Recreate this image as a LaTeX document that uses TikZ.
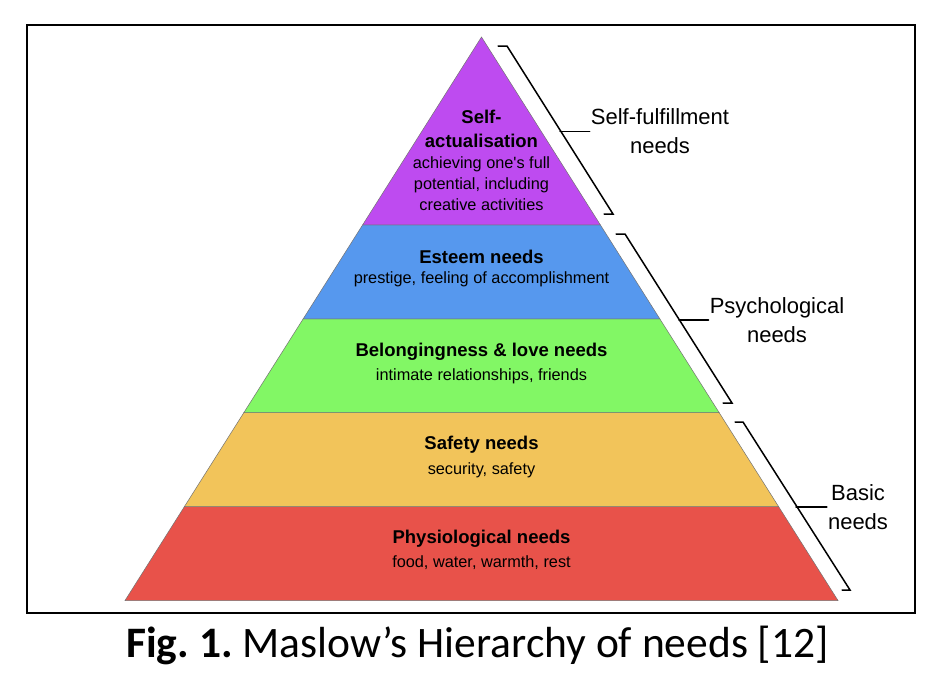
\documentclass[tikz,border=0pt]{standalone}
\usepackage{fontspec}
\setmainfont{Liberation Sans}
\newfontfamily\capfont{Carlito}
\usetikzlibrary{calc}
\frenchspacing

\definecolor{selfcol}{RGB}{190,75,240}
\definecolor{esteemcol}{RGB}{86,152,238}
\definecolor{lovecol}{RGB}{130,247,101}
\definecolor{safetycol}{RGB}{242,196,90}
\definecolor{physcol}{RGB}{232,82,74}

\begin{document}
\begin{tikzpicture}[x=1pt,y=-1pt,
  layer/.style={draw=black!55,line width=0.5pt},
  title/.style={font=\bfseries\fontsize{18.5}{24}\selectfont,align=center,inner sep=0pt},
  desc/.style={font=\fontsize{16.3}{21}\selectfont,align=center,inner sep=0pt},
  brace/.style={line width=1.5pt,line cap=round},
  side/.style={font=\fontsize{22}{29}\selectfont,align=center,inner sep=1pt}]
\useasboundingbox (0,0) rectangle (942,686);
\fill[white] (0,0) rectangle (942,686);

\draw[line width=2pt] (27,25) rectangle (915,613);

\coordinate (apex) at (481.5,37);
\coordinate (bl) at (125,600.5);
\coordinate (br) at (838,600.5);

% layers, bottom up
\filldraw[layer,fill=physcol] ($(apex)!0.8333!(bl)$) -- ($(apex)!0.8333!(br)$) -- (br) -- (bl) -- cycle;
\filldraw[layer,fill=safetycol] ($(apex)!0.6667!(bl)$) -- ($(apex)!0.6667!(br)$) -- ($(apex)!0.8333!(br)$) -- ($(apex)!0.8333!(bl)$) -- cycle;
\filldraw[layer,fill=lovecol] ($(apex)!0.5!(bl)$) -- ($(apex)!0.5!(br)$) -- ($(apex)!0.6667!(br)$) -- ($(apex)!0.6667!(bl)$) -- cycle;
\filldraw[layer,fill=esteemcol] ($(apex)!0.3333!(bl)$) -- ($(apex)!0.3333!(br)$) -- ($(apex)!0.5!(br)$) -- ($(apex)!0.5!(bl)$) -- cycle;
\filldraw[layer,fill=selfcol] (apex) -- ($(apex)!0.3333!(br)$) -- ($(apex)!0.3333!(bl)$) -- cycle;

\node[title] (selft) at (481.5,129) {Self-\\actualisation};
\node[desc] (selfd) at (481.5,184) {achieving one\textquotesingle s full\\potential, including\\creative activities};
\node[title,anchor=base] (esteemt) at (481.5,263.5) {Esteem needs};
\node[desc,anchor=base] (esteemd) at (481.5,283.5) {prestige, feeling of accomplishment};
\node[title,anchor=base] (lovet) at (481.5,356.5) {Belongingness \& love needs};
\node[desc,anchor=base] (loved) at (481.5,380.5) {intimate relationships, friends};
\node[title,anchor=base] (safetyt) at (481.5,449.5) {Safety needs};
\node[desc,anchor=base] (safetyd) at (481.5,474.5) {security, safety};
\node[title,anchor=base] (physt) at (481.5,543.5) {Physiological needs};
\node[desc,anchor=base] (physd) at (481.5,567.5) {food, water, warmth, rest};

% brackets
\node[side] (fulfil) at (660,131.5) {Self-fulfillment\\needs};
\node[side] (psych) at (777,320) {Psychological\\needs};
\node[side] (basic) at (858,507) {Basic\\needs};

\draw[brace] (498,46) -- (507,46) -- (613,214) -- (604,214);
\draw[brace] (616,234) -- (625,234) -- (732,403) -- (723,403);
\draw[brace] (735,422) -- (743,422) -- (850,590) -- (842,590);

\coordinate (m1) at (560,131.5);
\coordinate (m2) at (679,320);
\coordinate (m3) at (796,507);
\draw[brace] (m1) -- (fulfil.west);
\draw[brace] (m2) -- (psych.west);
\draw[brace] (m3) -- (basic.west);

\node[font=\capfont\fontsize{43.5}{50}\selectfont,anchor=base] (cap) at (477.5,657) {\textbf{Fig. 1.} Maslow’s Hierarchy of needs [12]};
\end{tikzpicture}
\end{document}
